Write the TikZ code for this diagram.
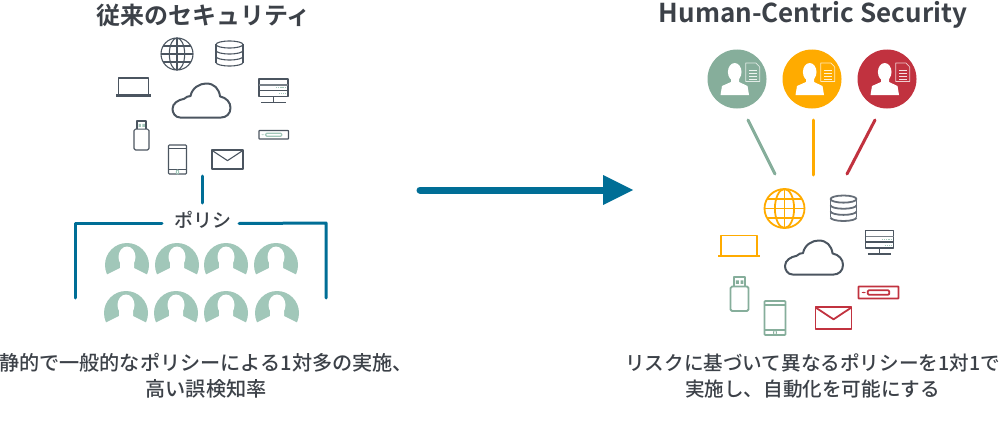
\documentclass[tikz,border=0pt]{standalone}
\usepackage{fontspec}
\setmainfont{Noto Sans CJK JP}[BoldFont={Noto Sans CJK JP Bold}]
\newfontfamily\medfont{Noto Sans CJK JP Medium}
\definecolor{bluec}{HTML}{006E96}
\definecolor{greenl}{HTML}{A1C7B9}
\definecolor{greenr}{HTML}{86AE9B}
\definecolor{orangec}{HTML}{FFAB00}
\definecolor{redc}{HTML}{C1323F}
\definecolor{darkc}{HTML}{4B5560}
\definecolor{txtc}{HTML}{3C4148}
\newcommand{\iclw}{1.1pt}
\tikzset{
  bluebar/.style={draw=bluec,line width=3pt,line cap=round,line join=round},
  linkbar/.style={line width=3pt,line cap=round},
  titletext/.style={font=\bfseries\fontsize{24}{30}\selectfont,text=txtc,inner sep=0pt},
  titlelatin/.style={font=\bfseries\fontsize{26}{30}\selectfont,text=txtc,inner sep=0pt},
  captext/.style={font=\medfont\fontsize{19.6}{26}\selectfont,text=txtc,inner sep=0pt,align=center},
  capleft/.style={font=\medfont\fontsize{20.15}{26}\selectfont,text=txtc,inner sep=0pt,align=center},
  poltext/.style={font=\medfont\fontsize{19}{24}\selectfont,text=txtc,inner sep=0pt},
  ic/.style={line width=\iclw,line join=round},
}
\newcommand{\icglobe}[2]{%
  \draw[ic,draw=#1] (.5,.5) circle[radius=.5];
  \draw[ic,draw=#1] (.5,.5) ellipse[x radius=.24,y radius=.5];
  \draw[ic,draw=#1] (.5,0)--(.5,1) (0,.5)--(1,.5) (.07,.25)--(.93,.25) (.07,.75)--(.93,.75);}
\newcommand{\icdb}[2]{%
  \draw[ic,draw=#1] (.5,.14) ellipse[x radius=.5,y radius=.14];
  \draw[ic,draw=#1] (0,.14)--(0,.86) (1,.14)--(1,.86);
  \draw[ic,draw=#1] (0,.38) arc[start angle=180,end angle=0,x radius=.5,y radius=.14];
  \draw[ic,draw=#1] (0,.62) arc[start angle=180,end angle=0,x radius=.5,y radius=.14];
  \draw[ic,draw=#1] (0,.86) arc[start angle=180,end angle=0,x radius=.5,y radius=.14];}
\newcommand{\iclaptop}[2]{%
  \draw[ic,draw=#1] (.08,.93)--(.08,0)--(.92,0)--(.92,.93);
  \draw[draw=#1,line width=2.6pt] (0,.93)--(1,.93);}
\newcommand{\icserver}[2]{%
  \draw[ic,draw=#1] (0,0) rectangle (1,.72);
  \draw[ic,draw=#1] (0,.48)--(1,.48);
  \draw[draw=#1!75,line width=1.6pt] (0,.24)--(1,.24);
  \draw[ic,draw=#1] (.5,.72)--(.5,.96) (.08,.97)--(.92,.97);
  \draw[draw=#2,line width=1.3pt,dash pattern=on 1.3pt off .9pt] (.58,.36)--(.92,.36) (.68,.6)--(.92,.6);}
\newcommand{\icusb}[2]{%
  \draw[ic,draw=#1,rounded corners=1.5pt] (0,.28) rectangle (1,1);
  \draw[ic,draw=#1] (.2,.28)--(.2,0)--(.8,0)--(.8,.28);
  \fill[#2] (.3,.1) rectangle (.46,.2) (.56,.1) rectangle (.72,.2);}
\newcommand{\icdev}[2]{%
  \draw[ic,draw=#1,rounded corners=.5pt] (0,0) rectangle (1,1);
  \draw[ic,draw=#2,rounded corners=1pt] (.23,.32) rectangle (.77,.68);
  \fill[#2] (.13,.5) circle[radius=.05];}
\newcommand{\icphone}[2]{%
  \draw[ic,draw=#1,rounded corners=.8pt] (0,0) rectangle (1,1);
  \draw[ic,draw=#1] (0,.11)--(1,.11) (0,.86)--(1,.86);
  \draw[draw=#2,line width=.9pt] (.5,.93) circle[radius=.07];}
\newcommand{\icmail}[2]{%
  \draw[ic,draw=#1] (0,0) rectangle (1,1);
  \draw[ic,draw=#1] (0,.02)--(.5,.56)--(1,.02);}
\newcommand{\iccloud}[2]{%
  \draw[draw=#1,line width=2pt,line join=round] (.13,1) .. controls (.04,1) and (0,.85) .. (0,.75)
   .. controls (0,.58) and (.1,.48) .. (.2,.45)
   .. controls (.24,.39) and (.27,.37) .. (.31,.37)
   .. controls (.34,.12) and (.47,0) .. (.58,0)
   .. controls (.72,0) and (.8,.15) .. (.82,.38)
   .. controls (.93,.42) and (1,.55) .. (1,.72)
   .. controls (1,.9) and (.92,1) .. (.84,1) -- cycle;}
% \icon{kind}{x0}{y0}{x1}{y1}{colour}{accent}
\newcommand{\icon}[7]{%
  \pgfmathsetmacro{\icw}{#4-#2}\pgfmathsetmacro{\ich}{#5-#3}%
  \begin{scope}[shift={(#2,#3)},x=\icw pt,y=-\ich pt]
    \csname ic#1\endcsname{#6}{#7}
  \end{scope}}
\newcommand{\headl}[2]{%
  \begin{scope}[shift={(#1,#2)}]
    \fill[greenl] (0,0) circle[radius=22];
    \fill[white] (-7,-6)--(-7,3)--(-23,11)--(-24,25)--(24,25)--(23,11)--(7,3)--(7,-6)--cycle;
    \fill[white] (0,-8) ellipse[x radius=8.5,y radius=10.5];
  \end{scope}}
\newcommand{\headr}[3]{%
  \begin{scope}[shift={(#1,#2)}]
    \fill[#3] (0,0) circle[radius=29.5];
    \fill[white] (-2.3,-7) ellipse[x radius=6.8,y radius=9];
    \fill[white] (-6,-4)--(-6,3)--(-15,7)--(-16.5,16)--(12,16)--(10.5,7)--(2,3)--(2,-4)--cycle;
    \draw[white!75!#3,line width=.7pt,line join=round] (8.7,-16)--(19,-16)--(22.7,-12)--(22.7,2.5)--(8.7,2.5)--cycle;
    \draw[white!85!#3,line width=.8pt] (12,-9)--(19.5,-9) (12,-6)--(19.5,-6) (12,-3)--(19.5,-3) (12,0)--(19.5,0);
  \end{scope}}
\begin{document}
\begin{tikzpicture}[x=1pt,y=-1pt]
\useasboundingbox (0,0) rectangle (1000,420);
% titles
\node[titletext] (tl) at (203.5,15.5) {従来のセキュリティ};
\node[titlelatin] (tr) at (813,15) {Human-Centric Security};
% left icons
\icon{globe}{161}{38}{193}{70}{darkc}{darkc}
\icon{db}{216}{41}{243}{66}{darkc}{darkc}
\icon{laptop}{116}{78}{151}{97}{darkc}{darkc}
\icon{server}{259}{79}{288}{103}{darkc}{greenl}
\icon{cloud}{172.5}{83.5}{230.5}{117.5}{darkc}{darkc}
\icon{usb}{134}{121}{149}{150}{darkc}{greenl}
\icon{dev}{259}{130.5}{288.5}{139}{darkc}{greenl}
\icon{phone}{168.5}{145}{186.5}{174}{darkc}{greenl}
\icon{mail}{212}{150}{243}{169}{darkc}{darkc}
% policy bracket
\coordinate (p1) at (202,176);
\coordinate (p2) at (202,203);
\draw[bluebar] (p1) -- (p2);
\node[poltext] (pol) at (203,220) {ポリシ};
\coordinate (bl1) at (75,298);
\coordinate (bl2) at (75,223);
\coordinate (bl3) at (162,223);
\coordinate (br1) at (239,223.5);
\coordinate (br2) at (326,223);
\coordinate (br3) at (326,298);
\draw[bluebar] (bl1) -- (bl2) -- (bl3);
\draw[bluebar] (br1) -- (br2) -- (br3);
% left people
\headl{127}{265}\headl{177}{265}\headl{226}{265}\headl{276}{265}
\headl{126}{313}\headl{176}{313}\headl{226}{313}\headl{277}{313}
% captions
\node[capleft] (cl) at (206,376) {静的で一般的なポリシーによる1対多の実施、\\高い誤検知率};
\node[captext] (cr) at (812.5,376) {リスクに基づいて異なるポリシーを1対1で\\実施し、自動化を可能にする};
% main arrow
\coordinate (a1) at (420,190);
\coordinate (a2) at (604,190);
\coordinate (a3) at (633,190);
\draw[draw=bluec,line width=7pt,line cap=round] (a1) -- (a2);
\fill[bluec] (603,175) -- (a3) -- (603,205) -- cycle;
% right people
\headr{737}{79}{greenr}
\headr{812}{79}{orangec}
\headr{887}{79}{redc}
% links
\coordinate (g1) at (748,120);
\coordinate (g2) at (775,174);
\coordinate (o1) at (813,120);
\coordinate (o2) at (813,175);
\coordinate (r1) at (875,120);
\coordinate (r2) at (847,174);
\draw[linkbar,draw=greenr] (g1) -- (g2);
\draw[linkbar,draw=orangec] (o1) -- (o2);
\draw[linkbar,draw=redc] (r1) -- (r2);
% right icons
\renewcommand{\iclw}{1.8pt}
\icon{globe}{764.5}{189}{804.5}{228}{orangec}{orangec}
\icon{db}{830.5}{195.5}{856.5}{221}{darkc!85}{darkc}
\icon{server}{865.5}{230.5}{893.5}{255}{darkc}{greenl}
\icon{laptop}{718}{235.5}{760}{257.5}{orangec}{orangec}
\icon{cloud}{785}{240.5}{843}{274.5}{darkc}{darkc}
\icon{usb}{730.5}{277}{748.5}{311}{greenr}{greenr}
\icon{dev}{858.5}{286.5}{898.5}{298.5}{redc}{redc}
\icon{phone}{764.5}{301}{785.5}{335}{greenr}{greenr}
\icon{mail}{815.5}{307}{851.5}{329}{redc}{redc}
\end{tikzpicture}
\end{document}
